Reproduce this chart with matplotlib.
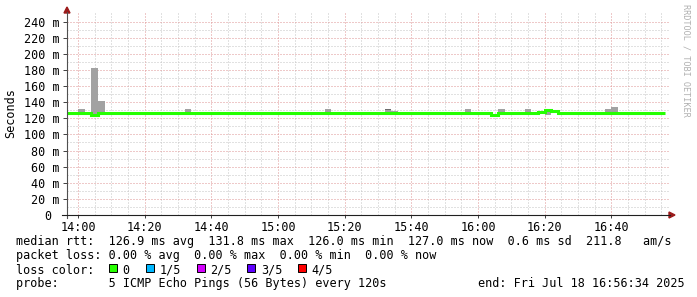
import numpy as np
import matplotlib
matplotlib.use("Agg")
import matplotlib.pyplot as plt
from matplotlib.patches import Rectangle, Polygon

# slot start times in minutes after 14:00 (one slot per 120 s probe)
slot_start = list(range(-4, 176, 2))

# median rtt per slot (ms)
median_ms = [
    127, 127, 127, 126, 124.5, 127, 127, 127, 127, 127,
    127, 127, 127, 127, 127, 127, 127, 127, 127, 126,
    126, 127, 127, 127, 127, 127, 127, 127, 127, 127,
    127, 126, 126, 127, 127, 127, 127, 127, 127, 127,
    127, 127, 127, 126, 126, 127, 127, 127, 127, 127,
    127, 127, 127, 127, 127, 127, 127, 127, 127, 127,
    127, 127, 127, 126, 124.5, 127, 127, 127, 127, 127,
    127, 127.8, 130.5, 129, 127, 127, 127, 127, 127, 127,
    127, 127, 127, 126, 126, 127, 127, 127, 127, 127,
]

# smoke (spread of the 5 pings) per slot (ms)
smoke_top = [
    128, 128, 131, 127, 182, 142, 128, 128, 128, 128,
    128, 128, 128, 128, 128, 128, 128, 128, 131, 127,
    127, 128, 128, 128, 128, 128, 128, 128, 128, 128,
    128, 127, 127, 128, 128, 128, 128, 128, 128, 131,
    128, 128, 128, 127, 127, 128, 128, 128, 132, 129.5,
    128, 128, 128, 128, 128, 128, 128, 128, 128, 128,
    131, 128, 128, 127, 125.5, 131, 128, 128, 128, 131,
    128, 128.5, 131, 130, 128, 128, 128, 128, 128, 128,
    128, 131, 134, 127, 127, 128, 128, 128, 128, 128,
]
smoke_bottom = [
    126, 126, 126, 125, 125.5, 126, 126, 126, 126, 126,
    126, 126, 126, 126, 126, 126, 126, 126, 126, 125,
    125, 126, 126, 126, 126, 126, 126, 126, 126, 126,
    126, 125, 125, 126, 126, 126, 126, 126, 126, 126,
    126, 126, 126, 125, 125, 126, 126, 126, 126, 126,
    126, 126, 126, 126, 126, 126, 126, 126, 126, 126,
    126, 126, 126, 125, 123.5, 126, 126, 126, 126, 126,
    126, 126, 124.5, 126, 126, 126, 126, 126, 126, 126,
    126, 126, 126, 125, 125, 126, 126, 126, 126, 126,
]
# darker smoke band
dark_start = [92]
dark_bottom = [130.5]
dark_top = [132]

tick_minutes = [0, 20, 40, 60, 80, 100, 120, 140, 160]
tick_labels = ['14:00', '14:20', '14:40', '15:00', '15:20', '15:40', '16:00', '16:20', '16:40']
y_ticks = [0, 20, 40, 60, 80, 100, 120, 140, 160, 180, 200, 220, 240]

loss_labels = ['0', '1/5', '2/5', '3/5', '4/5']
loss_colors = ['#26ff00', '#00b8ff', '#d400ff', '#5e00ff', '#ff0000']

W, H = 697, 297
def fx(x):
    return x / W
def fy(y):
    return 1 - y / H

mono = 'DejaVu Sans Mono'
fs = 8.5

fig = plt.figure(figsize=(W / 100, H / 100), dpi=100, facecolor='white')
ax = fig.add_axes([fx(67), fy(215), (670 - 67) / W, (215 - 13) / H])
ax.set_facecolor('white')
ax.set_xlim(-3.3, 177.6)
ax.set_ylim(0, 250.7)

# grid
ax.set_xticks(tick_minutes)
ax.set_xticklabels(tick_labels, fontfamily=mono, fontsize=fs)
ax.set_xticks(np.arange(0, 180, 5), minor=True)
ax.set_yticks(y_ticks)
ax.set_yticklabels(['%d m' % v if v else '0 ' for v in y_ticks], fontfamily=mono, fontsize=fs)
ax.set_yticks(np.arange(10, 250, 20), minor=True)
ax.grid(which='minor', color='#c4c4c4', linestyle=(0, (1, 2)), linewidth=0.72)
ax.grid(which='major', color='#df9494', linestyle=(0, (1, 2)), linewidth=0.72)
ax.set_axisbelow(True)
ax.tick_params(which='minor', length=0)
ax.tick_params(axis='x', which='major', length=2, width=0.7, color='#404040', pad=2)
ax.tick_params(axis='y', which='major', length=3, width=0.7, color='#404040', pad=2.5)
for s in ax.spines.values():
    s.set_visible(False)

# smoke
heights = [t - b for t, b in zip(smoke_top, smoke_bottom)]
ax.bar(slot_start, heights, bottom=smoke_bottom, width=2, align='edge',
       color='#a2a2a2', linewidth=0, zorder=2)
ax.bar(dark_start, [t - b for t, b in zip(dark_top, dark_bottom)], bottom=dark_bottom,
       width=2, align='edge', color='#6c6c6c', linewidth=0, zorder=2)

# median line
edges = slot_start + [slot_start[-1] + 2]
ax.stairs(median_ms, edges, baseline=None, color='#26ff00', linewidth=2.2, zorder=3)

# axes lines with arrows
fig.add_artist(plt.Line2D([fx(67), fx(67)], [fy(218), fy(12)], color='#505050', lw=0.8))
fig.add_artist(plt.Line2D([fx(62), fx(670)], [fy(215), fy(215)], color='#202020', lw=0.8))
fig.add_artist(Polygon([[fx(64), fy(13)], [fx(70), fy(13)], [fx(67), fy(7)]],
                       closed=True, color='#9b1b1b', transform=fig.transFigure))
fig.add_artist(Polygon([[fx(669), fy(212)], [fx(669), fy(218)], [fx(675), fy(215)]],
                       closed=True, color='#9b1b1b', transform=fig.transFigure))

fig.text(fx(11), fy(113), 'Seconds', rotation=90, ha='center', va='center',
         fontfamily=mono, fontsize=fs)
fig.text(fx(686), fy(4), 'RRDTOOL / TOBI OETIKER', rotation=270, ha='center', va='top',
         fontfamily=mono, fontsize=6.1, color='#b0b0b0')

# legend text
fig.text(fx(16), fy(245.5), 'median rtt:  126.9 ms avg  131.8 ms max  126.0 ms min  127.0 ms now  0.6 ms sd  211.8   am/s',
         ha='left', va='baseline', fontfamily=mono, fontsize=fs)
fig.text(fx(16), fy(259.5), 'packet loss: 0.00 % avg  0.00 % max  0.00 % min  0.00 % now',
         ha='left', va='baseline', fontfamily=mono, fontsize=fs)
fig.text(fx(16), fy(273.5), 'loss color:', ha='left', va='baseline', fontfamily=mono, fontsize=fs)
box_x = [109, 146, 197, 247, 298]
text_x = [122.5, 159.5, 210.5, 261.5, 311.5]
for bx, tx, lab, col in zip(box_x, text_x, loss_labels, loss_colors):
    fig.add_artist(Rectangle((fx(bx), fy(271.5)), 7.5 / W, 7.5 / H, transform=fig.transFigure,
                             facecolor=col, edgecolor='black', linewidth=0.7))
    fig.text(fx(tx), fy(273.5), lab, ha='left', va='baseline', fontfamily=mono, fontsize=fs)
fig.text(fx(16), fy(287), 'probe:       5 ICMP Echo Pings (56 Bytes) every 120s',
         ha='left', va='baseline', fontfamily=mono, fontsize=fs)
fig.text(fx(478), fy(287), 'end: Fri Jul 18 16:56:34 2025',
         ha='left', va='baseline', fontfamily=mono, fontsize=fs)

fig.savefig('out.png', dpi=100, facecolor='white')
